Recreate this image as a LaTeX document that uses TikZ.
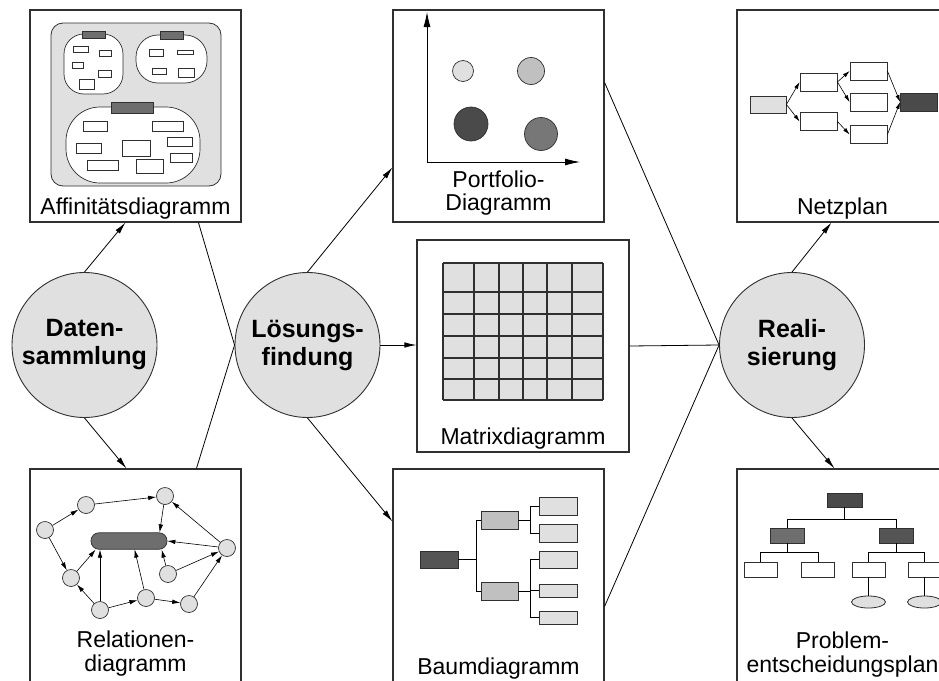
\documentclass[tikz,border=0pt]{standalone}
\usepackage{fontspec}
\setmainfont{Liberation Sans}
\usetikzlibrary{arrows.meta,calc,shapes.geometric}

\definecolor{fillLight}{HTML}{E0E0E0}
\definecolor{fillMid}{HTML}{C0C0C0}
\definecolor{fillDim}{HTML}{6E6E6E}
\definecolor{fillGrey}{HTML}{777777}
\definecolor{fillDark}{HTML}{4A4A4A}
\definecolor{fillDeep}{HTML}{555555}
\definecolor{edge}{HTML}{303030}

\begin{document}
\begin{tikzpicture}[x=1pt,y=-1pt,
  phase/.style={circle, draw=edge, line width=0.9pt, fill=fillLight,
    minimum size=145pt, inner sep=0pt, align=center,
    font=\fontsize{25}{28}\selectfont\bfseries},
  panel/.style={draw=edge, line width=1.1pt, fill=white,
    minimum width=211pt, minimum height=212pt, inner sep=0pt},
  caption/.style={font=\fontsize{23}{23.5}\selectfont, anchor=base,
    inner sep=0pt, align=center},
  link/.style={draw=black, line width=0.8pt},
  flow/.style={link, -{Latex[length=12pt,width=5.5pt]}},
  axis/.style={draw=black, line width=0.8pt, -{Latex[length=15pt,width=7pt]}},
  tiny/.style={draw=black, line width=0.6pt, -{Latex[length=7pt,width=4pt]}},
  plain/.style={draw=black, line width=0.7pt},
  box/.style={draw=edge, line width=0.8pt, inner sep=0pt, fill=white},
  relnode/.style={circle, draw=edge, line width=0.7pt, fill=fillLight,
    minimum size=17pt, inner sep=0pt},
  note/.style={draw=edge, line width=0.7pt, fill=white},
]
\clip (0,0) rectangle (939,680);
\fill[white] (0,0) rectangle (939,680);

% ---------- panels ----------
\node[panel] (affi) at (135.5,116) {};
\node[panel] (port) at (498.5,116) {};
\node[panel] (netz) at (842.5,116) {};
\node[panel, minimum width=212pt] (matr) at (523,346) {};
\node[panel, minimum height=230pt] (rela) at (135.5,584) {};
\node[panel, minimum height=230pt] (baum) at (498.5,584) {};
\node[panel, minimum height=230pt] (prob) at (842.5,584) {};

% ---------- phases ----------
\node[phase] (dat)  at (84.5,345)  {Daten-\\sammlung};
\node[phase] (loes) at (307.5,345) {Lösungs-\\findung};
\node[phase] (real) at (792,345)   {Reali-\\sierung};

% ---------- captions (anchored at the baseline of the last line) ----------
\node[caption] (affiCap) at (135.5,214)   {Affinitätsdiagramm};
\node[caption] (portCap) at (498.5,210.5) {Portfolio-\\Diagramm};
\node[caption] (netzCap) at (842.5,214)   {Netzplan};
\node[caption] (matrCap) at (523,444.5)   {Matrixdiagramm};
\node[caption] (relaCap) at (135.5,671)   {Relationen-\\diagramm};
\node[caption] (baumCap) at (498.5,674.5) {Baumdiagramm};
\node[caption] (probCap) at (842.5,672)   {Problem-\\entscheidungsplan};

% ---------- affinity diagram ----------
\filldraw[fill=fillLight, draw=edge, line width=0.8pt, rounded corners=12pt]
  (51,23) rectangle (221,186);
\filldraw[note, rounded corners=20pt] (64,34) rectangle (123,94);
\filldraw[note, rounded corners=22pt] (136,35) rectangle (207,83);
\filldraw[note, rounded corners=34pt] (66,107) rectangle (200,183);
\filldraw[note, fill=fillDim] (82,31) rectangle (105,38);
\filldraw[note, fill=fillDim] (160,31) rectangle (183,39);
\filldraw[note, fill=fillDim] (111,102) rectangle (153,113);
\foreach \a/\b/\c/\d in {73/46/88/52, 99/50/111/56, 72/62/83/68, 98/70/111/77,
    79/79/94/89, 149/49/163/56, 177/50/193/54, 152/68/166/74, 178/68/194/77,
    83/121/107/131, 152/121/183/131, 76/143/101/153, 122/140/150/156,
    167/137/192/146, 170/153/192/162, 87/160/118/170, 136/159/163/173}
  \filldraw[note] (\a,\b) rectangle (\c,\d);

% ---------- portfolio diagram ----------
\coordinate (origin) at (427,162);
\draw[axis] (origin) -- ++(0,-150);
\draw[axis] (origin) -- ++(153,0);
\filldraw[note, fill=fillLight] (463,71)  circle (10.5pt);
\filldraw[note, fill=fillMid]   (531,71)  circle (13.5pt);
\filldraw[note, fill=fillDark]  (471,124) circle (17pt);
\filldraw[note, fill=fillGrey]  (541,134) circle (16.5pt);

% ---------- network plan ----------
\begin{scope}[every node/.style={box, minimum width=37pt, minimum height=18pt}]
  \node[fill=fillLight, minimum width=36pt, minimum height=17pt] (n0) at (768,104.5) {};
  \node (n1) at (818.5,82) {};
  \node (n2) at (818.5,121.5) {};
  \node (n3) at (868.5,71) {};
  \node (n4) at (868.5,102) {};
  \node (n5) at (868.5,134.5) {};
  \node[fill=fillDark] (nd) at (919,102) {};
\end{scope}
\draw[tiny] (n0.east) -- (n1.west);
\draw[tiny] (n0.east) -- (n2.west);
\draw[tiny] (n1.east) -- (n3.west);
\draw[tiny] (n1.east) -- (n4.west);
\draw[tiny] (n2.east) -- (n5.west);
\draw[tiny] (n3.east) -- (nd.west);
\draw[tiny] (n5.east) -- (nd.west);

% ---------- matrix diagram ----------
\fill[fillLight] (443,263) rectangle (603,400);
\foreach \x in {443,474,499,523,547,572,603}
  \draw[edge, line width=1.1pt] (\x,263) -- (\x,400);
\foreach \y in {263,292,314,336,358,379,400}
  \draw[edge, line width=1.1pt] (443,\y) -- (603,\y);

% ---------- relations diagram ----------
\node[draw=edge, line width=0.7pt, fill=fillDim, rounded corners=8pt,
  minimum width=76pt, minimum height=16.5pt, inner sep=0pt] (rp) at (129,541) {};
\node[relnode] (r1) at (45,530)  {};
\node[relnode] (r2) at (86,505)  {};
\node[relnode] (r3) at (165,496) {};
\node[relnode] (r4) at (71,578)  {};
\node[relnode] (r5) at (100,610) {};
\node[relnode] (r6) at (146,598) {};
\node[relnode] (r7) at (189,604) {};
\node[relnode] (r8) at (168,574) {};
\node[relnode] (r9) at (227,548) {};
\begin{scope}[every path/.style={draw=black, line width=0.6pt, -{Latex[length=8pt,width=4.5pt]}}]
  \draw (r1) -- (r2);
  \draw (r2) -- (r3);
  \draw (r3) -- ($(rp.north west)+(69,0)$);
  \draw (r1) -- (r4);
  \draw (r4) -- ($(rp.south west)+(5,0)$);
  \draw (r5) -- (r4);
  \draw (r5) -- (r5 |- rp.south);
  \draw (r5) -- (r6);
  \draw (r6) -- ($(rp.south west)+(44,0)$);
  \draw (r6) -- (r7);
  \draw (r7) -- (r9);
  \draw (r8) -- ($(rp.south west)+(71,0)$);
  \draw (r8) -- (r9);
  \draw (r9) -- (rp.east);
  \draw (r9) -- (r3);
\end{scope}

% ---------- tree diagram ----------
\node[box, fill=fillDeep, minimum width=38pt, minimum height=17pt] (b0) at (439,559.5) {};
\node[box, fill=fillMid, minimum width=37pt, minimum height=18pt] (b1) at (499.5,520) {};
\node[box, fill=fillMid, minimum width=37pt, minimum height=18pt] (b2) at (499.5,591) {};
\begin{scope}[every node/.style={box, fill=fillLight, minimum width=38pt}]
  \node[minimum height=18pt] (l1) at (558,506)   {};
  \node[minimum height=18pt] (l2) at (558,533)   {};
  \node[minimum height=17pt] (l3) at (558,559.5) {};
  \node[minimum height=13pt] (l4) at (558,590.5) {};
  \node[minimum height=13pt] (l5) at (558,617.5) {};
\end{scope}
\draw[plain] (b0.east) -- ++(18,0) |- (b1.west);
\draw[plain] (b0.east) -- ++(18,0) |- (b2.west);
\draw[plain] (b1.east) -- ++(12,0) |- (l1.west);
\draw[plain] (b1.east) -- ++(12,0) |- (l2.west);
\draw[plain] (b2.east) -- ++(12,0) |- (l3.west);
\draw[plain] (b2.east) -- ++(12,0) |- (l4.west);
\draw[plain] (b2.east) -- ++(12,0) |- (l5.west);

% ---------- decision plan ----------
\node[box, fill=fillDark, minimum width=35pt, minimum height=14pt] (p0) at (844.5,500) {};
\node[box, fill=fillDim, minimum width=34pt, minimum height=15pt] (p1) at (787,535.5) {};
\node[box, fill=fillDeep, minimum width=34pt, minimum height=15pt] (p2) at (896.5,535.5) {};
\begin{scope}[every node/.style={box, minimum width=33pt, minimum height=15pt}]
  \node (p3) at (760.5,569.5) {};
  \node (p4) at (818,569.5)   {};
  \node (p5) at (868.5,569.5) {};
  \node (p6) at (924.5,569.5) {};
\end{scope}
\node[ellipse, box, fill=fillLight, minimum width=34pt, minimum height=12pt] (e5) at (868.5,602) {};
\node[ellipse, box, fill=fillLight, minimum width=34pt, minimum height=12pt] (e6) at (924.5,602) {};
\draw[plain] (p0.south) -- ++(0,12) -| (p1.north);
\draw[plain] (p0.south) -- ++(0,12) -| (p2.north);
\draw[plain] (p1.south) -- ++(0,9) -| (p3.north);
\draw[plain] (p1.south) -- ++(0,9) -| (p4.north);
\draw[plain] (p2.south) -- ++(0,9) -| (p5.north);
\draw[plain] (p2.south) -- ++(0,9) -| (p6.north);
\draw[plain] (p5) -- (e5);
\draw[plain] (p6) -- (e6);

% ---------- process connectors ----------
\draw[flow] (dat.north) -- ($(affi.south west)+(96,0)$);
\draw[flow] (dat.south) -- ($(rela.north west)+(97,0)$);
\draw[link] ($(affi.south west)+(169,0)$) -- (loes.west);
\draw[link] ($(rela.north west)+(167,0)$) -- (loes.west);
\draw[flow] (loes.north) -- ($(port.north west)+(0,158)$);
\draw[flow] (loes.east) -- (loes.east -| matr.west);
\draw[flow] (loes.south) -- ($(baum.north west)+(0,53)$);
\draw[link] ($(port.north east)+(0,73)$) -- (real.west);
\draw[link] (matr.east) -- (real.west);
\draw[link] ($(baum.north east)+(0,138)$) -- (real.west);
\draw[flow] (real.north) -- ($(netz.south west)+(95,0)$);
\draw[flow] (real.south) -- ($(prob.north west)+(98,0)$);
\end{tikzpicture}
\end{document}
